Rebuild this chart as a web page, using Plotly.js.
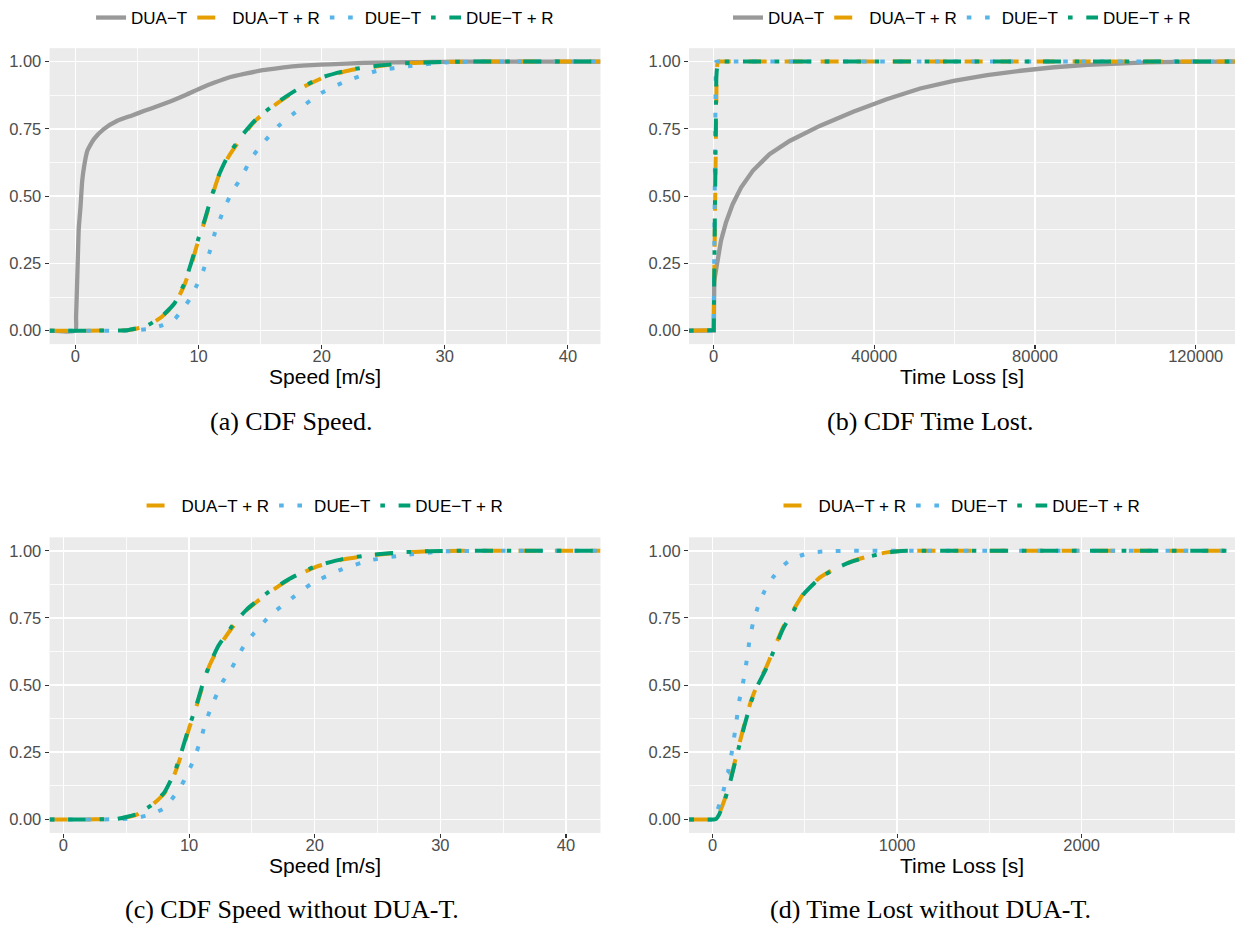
<!DOCTYPE html>
<html><head><meta charset="utf-8">
<script src="https://cdn.plot.ly/plotly-3.0.1.min.js"></script>
<style>html,body{margin:0;padding:0;background:#fff}#chart{width:1235px;height:926px}</style>
</head><body><div id="chart"></div>
<script>
// ---- series names and colours ----
const seriesNames = ['DUA\u2212T', 'DUA\u2212T + R', 'DUE\u2212T', 'DUE\u2212T + R'];
const seriesColors = ['#999999', '#E69F00', '#56B4E9', '#009E73'];
const seriesDashes = ['solid', '18px,18px', '4.6px,13.7px', '4.6px,13.7px,18px,13.7px'];

// ---- ECDF of speed [m/s] ----
const speedDUAT_x = [0, 0.05, 0.15, 0.27, 0.41, 0.55, 0.7, 0.96, 1.5, 2.3, 3.4, 4.6, 5.6, 6.7, 7.8, 9.0, 10.25, 11.3, 12.4, 13.8, 15.2, 16.5, 17.9, 19.2, 20.6, 23.4, 26, 28, 30, 33, 36, 40.6];
const speedDUAT_y = [0, 0.05, 0.2, 0.38, 0.46, 0.557, 0.61, 0.668, 0.712, 0.749, 0.78, 0.8, 0.817, 0.835, 0.854, 0.877, 0.903, 0.922, 0.94, 0.955, 0.968, 0.976, 0.983, 0.987, 0.99, 0.995, 0.997, 0.998, 0.999, 1, 1, 1];
const speedDUATR_x = [0.9, 4.23, 5.0, 5.87, 6.97, 8.06, 8.88, 9.43, 9.97, 10.5, 11.07, 11.6, 12.4, 13.5, 14.6, 16.3, 17.9, 20.1, 22.3, 24.7, 26.9, 29, 32, 36, 40.7];
const speedDUATR_y = [0, 0.002, 0.008, 0.019, 0.05, 0.099, 0.173, 0.248, 0.334, 0.408, 0.495, 0.57, 0.644, 0.718, 0.78, 0.842, 0.891, 0.94, 0.968, 0.984, 0.993, 0.998, 1, 1, 1];
const speedDUET_x = [0.9, 4.5, 5.87, 6.97, 8.06, 8.6, 9.29, 9.84, 10.38, 10.93, 11.34, 12.02, 12.7, 13.39, 14.34, 15.16, 16.5, 18.17, 19.8, 22, 24.45, 27.2, 30, 33, 36, 40.7];
const speedDUET_y = [0, 0.001, 0.006, 0.019, 0.043, 0.074, 0.118, 0.167, 0.223, 0.297, 0.365, 0.446, 0.514, 0.563, 0.644, 0.693, 0.761, 0.823, 0.879, 0.928, 0.965, 0.984, 0.997, 1, 1, 1];
const speedDUETR_x = [0.9, 4.2, 5.0, 5.9, 7.0, 8.05, 8.85, 9.4, 9.95, 10.5, 11.05, 11.6, 12.35, 13.45, 14.6, 16.25, 17.9, 20.0, 22.2, 24.6, 26.8, 29, 32, 36, 40.7];
const speedDUETR_y = [0, 0.002, 0.009, 0.021, 0.053, 0.102, 0.176, 0.252, 0.337, 0.412, 0.498, 0.573, 0.647, 0.721, 0.782, 0.844, 0.893, 0.941, 0.969, 0.985, 0.994, 0.998, 1, 1, 1];

// ---- ECDF of time loss [s] ----
const lossDUAT_x = [55, 170, 417, 1000, 1833, 3083, 4750, 6833, 9750, 13917, 18917, 26417, 34750, 43083, 51417, 59750, 68083, 76417, 84750, 93083, 100000, 108000, 115000, 123600];
const lossDUAT_y = [0, 0.186, 0.21, 0.272, 0.334, 0.402, 0.47, 0.532, 0.594, 0.656, 0.705, 0.761, 0.814, 0.86, 0.9, 0.928, 0.95, 0.966, 0.979, 0.988, 0.993, 0.997, 0.999, 1];
const lossDUATR_x = [6.5, 18, 36, 64, 91, 118, 145, 173, 209, 245, 291, 336, 382, 436, 491, 582, 673, 764, 855, 945, 1018, 1400, 2000, 2697];
const lossDUATR_y = [0, 0.002, 0.022, 0.072, 0.134, 0.208, 0.282, 0.356, 0.443, 0.505, 0.567, 0.641, 0.715, 0.777, 0.839, 0.901, 0.938, 0.963, 0.981, 0.994, 0.999, 1, 1, 1];
const lossDUET_x = [6.5, 15, 27, 55, 82, 109, 127, 145, 164, 182, 200, 218, 245, 282, 327, 364, 409, 473, 545, 655, 764, 1000, 2000, 2697];
const lossDUET_y = [0, 0.005, 0.035, 0.097, 0.171, 0.27, 0.356, 0.443, 0.505, 0.579, 0.666, 0.728, 0.79, 0.851, 0.901, 0.932, 0.96, 0.981, 0.994, 0.999, 1, 1, 1, 1];
const lossDUETR_x = [6.5, 19, 37, 65, 92, 119, 146, 174, 210, 247, 293, 338, 384, 438, 493, 584, 675, 766, 857, 947, 1020, 1400, 2000, 2697];
const lossDUETR_y = [0, 0.002, 0.021, 0.07, 0.132, 0.205, 0.279, 0.353, 0.44, 0.503, 0.565, 0.639, 0.713, 0.776, 0.838, 0.9, 0.937, 0.962, 0.98, 0.993, 0.999, 1, 1, 1];

// ---- tick labels / axis titles / captions ----
const yTickVals = [0, 0.25, 0.5, 0.75, 1];
const yTickText = ['0.00', '0.25', '0.50', '0.75', '1.00'];
const speedTitle = 'Speed [m/s]';
const lossTitle = 'Time Loss [s]';
const captions = ['(a) CDF Speed.', '(b) CDF Time Lost.', '(c) CDF Speed without DUA-T.', '(d) Time Lost without DUA-T.'];

// ---- layout geometry (pixels of the 1235x926 page) ----
const W = 1235, H = 926;
const px = v => v / W, py = v => 1 - v / H;
const ranges = {
  a: [-2.1, 42.65], b: [-6120, 129780], c: [-1.1, 42.75], d: [-128, 2831]
};

// ECDF traces are padded to the axis ends (as stat_ecdf does with -Inf/Inf)
function ecdf(xs, ys, k, range, ax, legend, smooth) {
  return {
    type: 'scatter', mode: 'lines', name: seriesNames[k],
    x: [range[0]].concat(xs, [range[1]]),
    y: [0].concat(ys, [1]),
    xaxis: 'x' + ax, yaxis: 'y' + ax, legend: legend,
    line: {color: seriesColors[k], width: k === 0 ? 4.3 : 4, dash: seriesDashes[k],
           shape: smooth ? 'spline' : 'linear', smoothing: smooth ? 0.5 : 0},
    showlegend: true, hoverinfo: 'skip'
  };
}

const traces = [
  ecdf(speedDUAT_x, speedDUAT_y, 0, ranges.a, '', 'legend', true),
  ecdf(speedDUATR_x, speedDUATR_y, 1, ranges.a, '', 'legend', true),
  ecdf(speedDUET_x, speedDUET_y, 2, ranges.a, '', 'legend', true),
  ecdf(speedDUETR_x, speedDUETR_y, 3, ranges.a, '', 'legend', true),
  ecdf(lossDUAT_x, lossDUAT_y, 0, ranges.b, '2', 'legend2', false),
  ecdf(lossDUATR_x, lossDUATR_y, 1, ranges.b, '2', 'legend2', false),
  ecdf(lossDUET_x, lossDUET_y, 2, ranges.b, '2', 'legend2', false),
  ecdf(lossDUETR_x, lossDUETR_y, 3, ranges.b, '2', 'legend2', false),
  ecdf(speedDUATR_x, speedDUATR_y, 1, ranges.c, '3', 'legend3', true),
  ecdf(speedDUET_x, speedDUET_y, 2, ranges.c, '3', 'legend3', true),
  ecdf(speedDUETR_x, speedDUETR_y, 3, ranges.c, '3', 'legend3', true),
  ecdf(lossDUATR_x, lossDUATR_y, 1, ranges.d, '4', 'legend4', true),
  ecdf(lossDUET_x, lossDUET_y, 2, ranges.d, '4', 'legend4', true),
  ecdf(lossDUETR_x, lossDUETR_y, 3, ranges.d, '4', 'legend4', true)
];

const sans = 'Liberation Sans, Arial, sans-serif';
const tickFont = {family: sans, size: 16.5, color: '#4D4D4D'};

function xAxis(domain, range, dtick, minor, title, anchor) {
  return {
    domain: domain, range: range, anchor: anchor, dtick: dtick, tick0: 0, tickformat: 'd',
    showgrid: true, gridcolor: '#FFFFFF', gridwidth: 1.6, zeroline: false, showline: false,
    ticks: 'outside', ticklen: 4, tickwidth: 1.1, tickcolor: '#333333',
    tickfont: tickFont, ticklabelstandoff: -7,
    minor: {dtick: minor, tick0: 0, showgrid: true, gridcolor: '#FFFFFF', gridwidth: 0.8, ticks: ''},
    title: {text: title, font: {family: sans, size: 21, color: '#000000'}, standoff: 2},
    fixedrange: true
  };
}
function yAxis(domain, anchor) {
  return {
    domain: domain, range: [-0.05, 1.05], anchor: anchor,
    tickvals: yTickVals, ticktext: yTickText,
    showgrid: true, gridcolor: '#FFFFFF', gridwidth: 1.6, zeroline: false, showline: false,
    ticks: 'outside', ticklen: 4, tickwidth: 1.1, tickcolor: '#333333', tickfont: tickFont,
    minor: {tickvals: [0.125, 0.375, 0.625, 0.875], showgrid: true, gridcolor: '#FFFFFF', gridwidth: 0.8, ticks: ''},
    fixedrange: true
  };
}

const leftX = [px(49.6), px(600.5)];
const rightX = [px(689), 1];
const topY = [py(343.5), py(47.2)];
const botY = [py(832.8), py(536.9)];

function legendAt(cx, cy) {
  return {
    orientation: 'h', x: cx, xanchor: 'center', y: cy, yanchor: 'middle',
    font: {family: sans, size: 17, color: '#000000'}, bgcolor: 'rgba(0,0,0,0)',
    itemwidth: 30, traceorder: 'normal', itemclick: false, itemdoubleclick: false
  };
}

const capFont = {family: 'Liberation Serif, Times New Roman, serif', size: 26, color: '#000000'};
function caption(i, cx, cy) {
  return {text: captions[i], x: px(cx), y: py(cy), xref: 'paper', yref: 'paper', showarrow: false,
          font: capFont, xanchor: 'center', yanchor: 'middle'};
}
const layout = {
  width: W, height: H, margin: {l: 0, r: 0, t: 0, b: 0},
  paper_bgcolor: '#FFFFFF', plot_bgcolor: '#EBEBEB',
  xaxis: xAxis(leftX, ranges.a, 10, 5, speedTitle, 'y'),
  yaxis: yAxis(topY, 'x'),
  xaxis2: xAxis(rightX, ranges.b, 40000, 20000, lossTitle, 'y2'),
  yaxis2: yAxis(topY, 'x2'),
  xaxis3: xAxis(leftX, ranges.c, 10, 5, speedTitle, 'y3'),
  yaxis3: yAxis(botY, 'x3'),
  xaxis4: xAxis(rightX, ranges.d, 1000, 500, lossTitle, 'y4'),
  yaxis4: yAxis(botY, 'x4'),
  legend: legendAt((leftX[0] + leftX[1]) / 2, py(16.7)),
  legend2: legendAt((rightX[0] + rightX[1]) / 2, py(16.7)),
  legend3: legendAt((leftX[0] + leftX[1]) / 2, py(506)),
  legend4: legendAt((rightX[0] + rightX[1]) / 2, py(506)),
  showlegend: true,
  annotations: [
    caption(0, 290.5, 421), caption(1, 930, 421), caption(2, 291.5, 909.5), caption(3, 930, 909.5)
  ]
};

Plotly.newPlot('chart', traces, layout, {displayModeBar: false, staticPlot: true});
</script>
</body></html>
